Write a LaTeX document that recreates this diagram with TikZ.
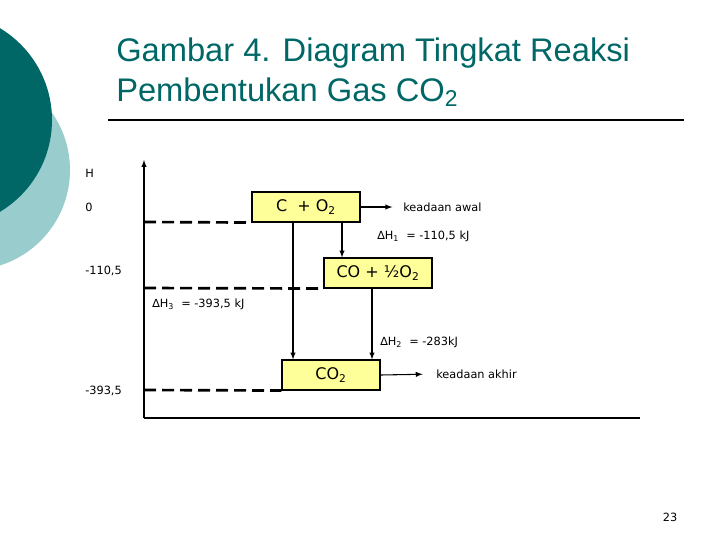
\documentclass[tikz,border=0pt]{standalone}
\usepackage{fontspec}
\setmainfont{DejaVu Sans}
\newfontfamily\titlefont{Liberation Sans}
\definecolor{darkteal}{HTML}{006666}
\definecolor{lightteal}{HTML}{99CCCC}
\definecolor{boxyellow}{HTML}{FFFF99}
\newcommand{\sub}[1]{\textsubscript{#1}}
\tikzset{
  level/.style = {draw, fill=boxyellow, thick, minimum height=22.5pt,
                  inner sep=0pt, font=\fontsize{12}{14}\selectfont},
  lbl/.style = {font=\fontsize{8.5}{10}\selectfont, inner sep=0pt},
  guide/.style = {line width=2pt, dash pattern=on 9pt off 4.5pt},
  arr/.style = {thick, -latex}
}
\begin{document}
\begin{tikzpicture}[x=0.75pt, y=-0.75pt]
	\useasboundingbox (0,0) rectangle (720,540);
	
	% Background circles
	\fill[lightteal] (-30,170) circle (100);
	\fill[darkteal] (-55,120) circle (107);
	
	% Title
	\node[anchor=north west, align=left, text=darkteal, inner sep=0pt,
	      font=\titlefont\fontsize{24.5}{30}\selectfont] (title) at (116,38)
	      {Gambar 4. Diagram Tingkat Reaksi\\Pembentukan Gas CO\sub{2}};
	\draw[thick] (108,120) -- (684,120);
	
	% Axes
	\draw[thick, -latex] (144,418) -- (144,160);
	\draw[thick] (144,418) -- (640,418);
	
	% Levels
	\node[level, minimum width=81pt] (start) at (306,207) {C \ + O\sub{2}};
	\node[level, minimum width=81pt] (mid) at (378,273) {CO + ½O\sub{2}};
	\node[level, minimum width=73.5pt] (end) at (331,375) {CO\sub{2}};
	
	% Dashed guides
	\draw[guide] (144,222) -- (start.south west);
	\draw[guide] (144,288) -- (mid.south west);
	\draw[guide] (144,390) -- (end.south west);
	
	% Axis labels
	\node[lbl, anchor=west] (hlbl) at (85,173) {H};
	\node[lbl, anchor=west] (zero) at (85,207) {0};
	\node[lbl, anchor=west] (vmid) at (85,271) {-110,5};
	\node[lbl, anchor=west] (vend) at (85,391) {-393,5};
	
	% Reaction arrows
	\draw[arr] (start.south -| 293,0) -- (end.north -| 293,0);
	\draw[arr] (start.south -| 342,0) -- (mid.north -| 342,0);
	\draw[arr] (mid.south -| 372,0) -- (end.north -| 372,0);
	
	% States
	\node[lbl, anchor=west] (awal) at (403,207) {keadaan awal};
	\node[lbl, anchor=west] (akhir) at (436,374) {keadaan akhir};
	\draw[arr, shorten >=8pt] (start.east) -- (awal.west);
	\draw[arr, shorten >=10pt] (end.east) -- (akhir.west);
	
	% Enthalpies
	\node[lbl, anchor=west] (dh1) at (377,236) {∆H\sub{1} \ = -110,5 kJ};
	\node[lbl, anchor=west] (dh3) at (152,304) {∆H\sub{3} \ = -393,5 kJ};
	\node[lbl, anchor=west] (dh2) at (380,342) {∆H\sub{2} \ = -283kJ};
	
	% Page number
	\node[lbl] (page) at (670,517) {23};
\end{tikzpicture}
\end{document}
